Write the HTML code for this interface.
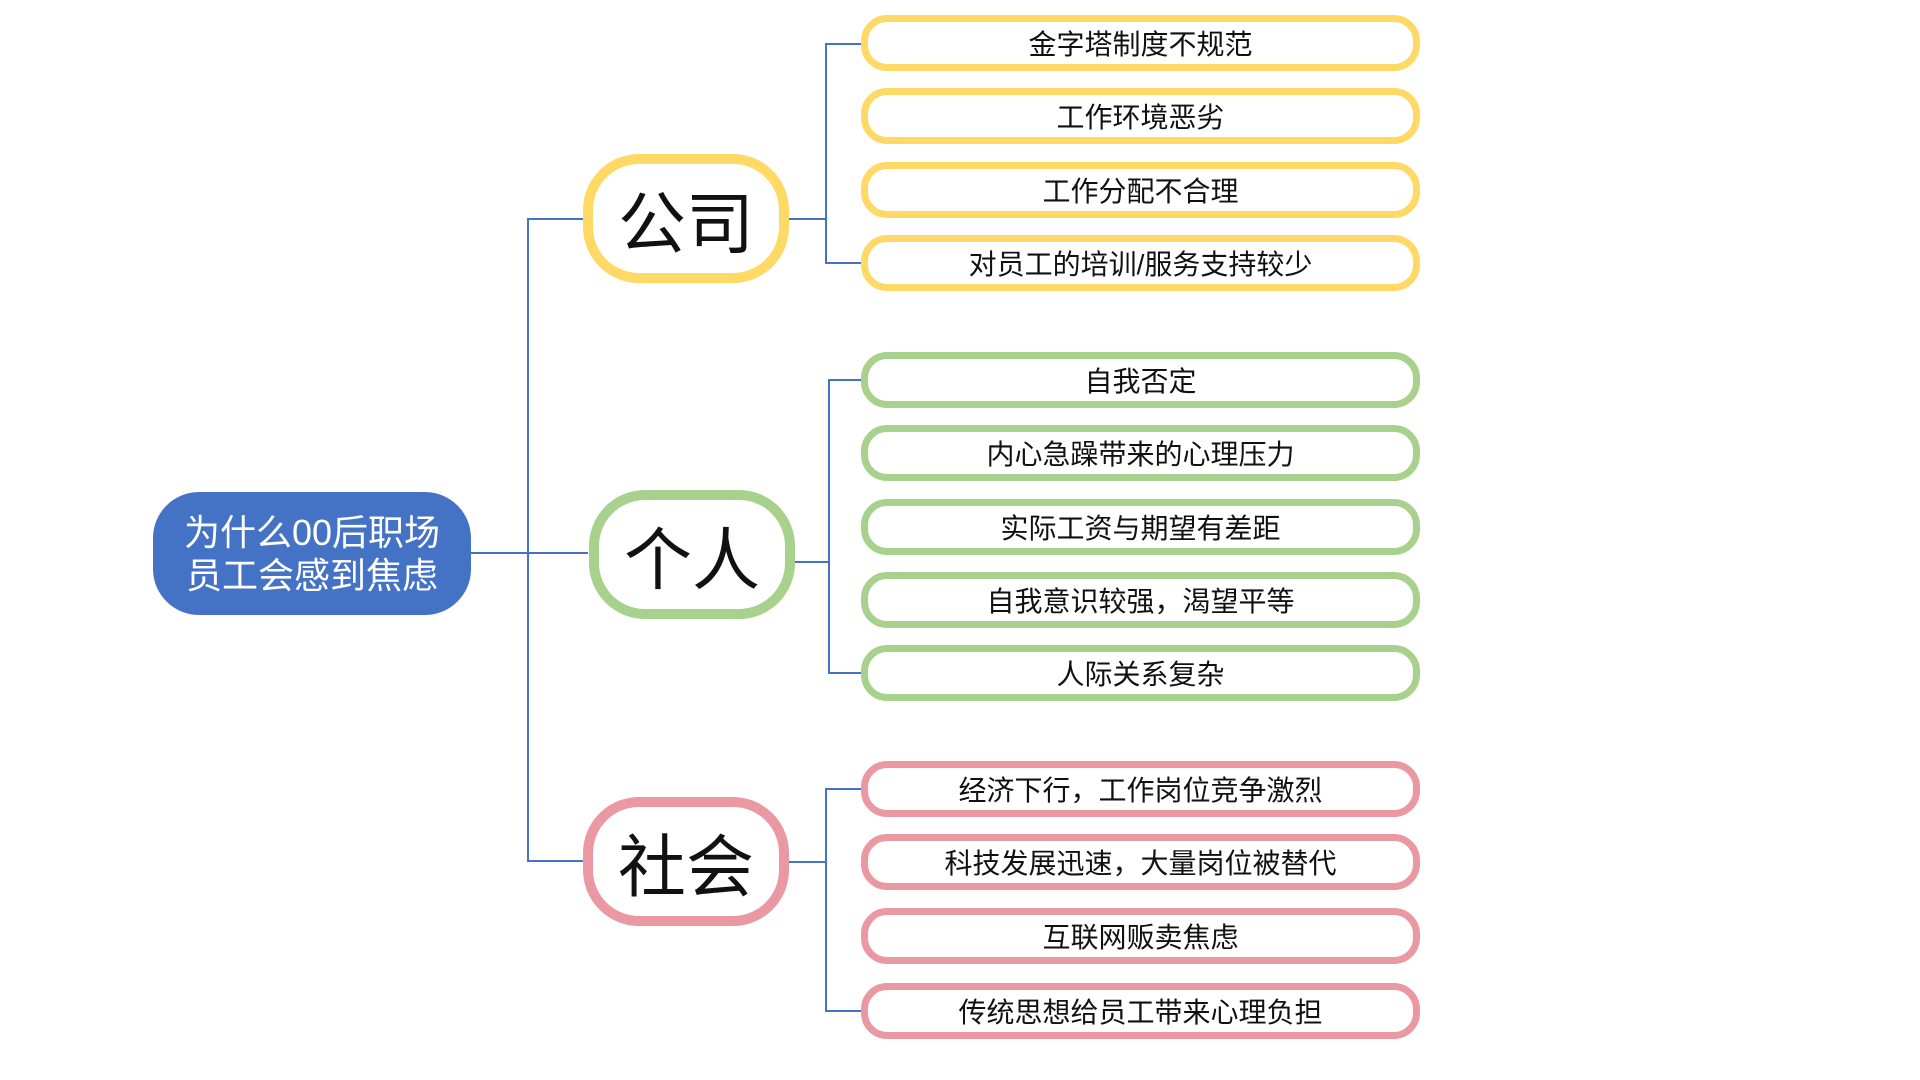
<!DOCTYPE html>
<html><head><meta charset="utf-8"><style>
body{margin:0;width:1920px;height:1080px;background:#fff;position:relative;overflow:hidden;font-family:"Liberation Sans","Noto Sans CJK SC",sans-serif}
.b{position:absolute;box-sizing:border-box;display:flex;align-items:center;justify-content:center;text-align:center;color:#111}
.root{left:153px;top:492px;width:318px;height:123px;background:#4472c4;border-radius:46px;color:#fff;font-size:36px;line-height:43px}
.cat{width:206px;height:129px;border:10px solid;border-radius:56px;font-size:68px;background:#fff}
.leaf{left:861px;width:559px;height:56px;border:7px solid;border-radius:26px;font-size:28px;background:#fff}
.y{border-color:#ffd966}.g{border-color:#a9d18e}.p{border-color:#ea98a1}
.l{position:absolute;background:#4472c4}
</style></head><body>
<div class="l" style="left:471px;top:552px;width:117px;height:2px"></div>
<div class="l" style="left:527px;top:218px;width:2px;height:644px"></div>
<div class="l" style="left:527px;top:218px;width:58px;height:2px"></div>
<div class="l" style="left:527px;top:860px;width:58px;height:2px"></div>
<div class="l" style="left:789px;top:218px;width:38px;height:2px"></div>
<div class="l" style="left:825px;top:43px;width:2px;height:221px"></div>
<div class="l" style="left:825px;top:43px;width:38px;height:2px"></div>
<div class="l" style="left:825px;top:262px;width:38px;height:2px"></div>
<div class="l" style="left:795px;top:561px;width:35px;height:2px"></div>
<div class="l" style="left:828px;top:379px;width:2px;height:295px"></div>
<div class="l" style="left:828px;top:379px;width:35px;height:2px"></div>
<div class="l" style="left:828px;top:672px;width:35px;height:2px"></div>
<div class="l" style="left:789px;top:861px;width:38px;height:2px"></div>
<div class="l" style="left:825px;top:788px;width:2px;height:224px"></div>
<div class="l" style="left:825px;top:788px;width:38px;height:2px"></div>
<div class="l" style="left:825px;top:1010px;width:38px;height:2px"></div>

<div class="b root">为什么00后职场<br>员工会感到焦虑</div>
<div class="b cat y" style="left:583px;top:154px">公司</div>
<div class="b cat g" style="left:589px;top:490px">个人</div>
<div class="b cat p" style="left:583px;top:797px">社会</div>

<div class="b leaf y" style="top:15px">金字塔制度不规范</div>
<div class="b leaf y" style="top:88px">工作环境恶劣</div>
<div class="b leaf y" style="top:162px">工作分配不合理</div>
<div class="b leaf y" style="top:235px">对员工的培训/服务支持较少</div>
<div class="b leaf g" style="top:352px">自我否定</div>
<div class="b leaf g" style="top:425px">内心急躁带来的心理压力</div>
<div class="b leaf g" style="top:499px">实际工资与期望有差距</div>
<div class="b leaf g" style="top:572px">自我意识较强，渴望平等</div>
<div class="b leaf g" style="top:645px">人际关系复杂</div>
<div class="b leaf p" style="top:761px">经济下行，工作岗位竞争激烈</div>
<div class="b leaf p" style="top:834px">科技发展迅速，大量岗位被替代</div>
<div class="b leaf p" style="top:908px">互联网贩卖焦虑</div>
<div class="b leaf p" style="top:983px">传统思想给员工带来心理负担</div>
</body></html>
